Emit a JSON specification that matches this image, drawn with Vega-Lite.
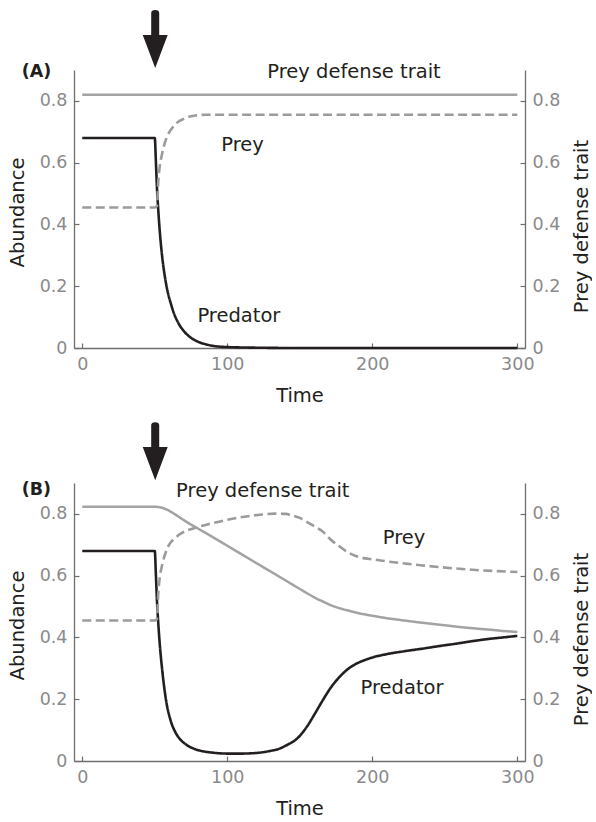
{
  "$schema": "https://vega.github.io/schema/vega-lite/v6.json",
  "padding": {"left": 7, "top": 10, "right": 0, "bottom": 0},
  "config": {
    "view": {"stroke": null},
    "font": "DejaVu Sans",
    "concat": {"spacing": 17},
    "axis": {
      "grid": false,
      "domainColor": "#6e6e6e",
      "domainWidth": 1.3,
      "tickColor": "#6e6e6e",
      "tickWidth": 1.2,
      "tickSize": -5,
      "labelColor": "#8a8a8a",
      "labelFont": "DejaVu Sans",
      "labelFontSize": 17.5,
      "labelPadding": 12,
      "labelFlush": false,
      "titleFont": "DejaVu Sans",
      "titleFontSize": 19.5,
      "titleFontWeight": "normal",
      "titleColor": "#231f20"
    }
  },
  "datasets": {
    "curves": [
      {"panel":"A","series":"predator","t":0,"v":0.68},{"panel":"A","series":"predator","t":50,"v":0.68},{"panel":"A","series":"predator","t":50.8,"v":0.6},{"panel":"A","series":"predator","t":51.5,"v":0.52},{"panel":"A","series":"predator","t":52.5,"v":0.44},{"panel":"A","series":"predator","t":53.5,"v":0.375},{"panel":"A","series":"predator","t":55,"v":0.3},{"panel":"A","series":"predator","t":57,"v":0.23},{"panel":"A","series":"predator","t":59,"v":0.18},{"panel":"A","series":"predator","t":61,"v":0.145},{"panel":"A","series":"predator","t":63,"v":0.115},{"panel":"A","series":"predator","t":66,"v":0.083},{"panel":"A","series":"predator","t":70,"v":0.055},{"panel":"A","series":"predator","t":75,"v":0.033},{"panel":"A","series":"predator","t":80,"v":0.02},{"panel":"A","series":"predator","t":85,"v":0.012},{"panel":"A","series":"predator","t":90,"v":0.007},{"panel":"A","series":"predator","t":100,"v":0.003},{"panel":"A","series":"predator","t":120,"v":0.001},{"panel":"A","series":"predator","t":150,"v":0},{"panel":"A","series":"predator","t":300,"v":0},
      {"panel":"A","series":"prey","t":0,"v":0.455},{"panel":"A","series":"prey","t":50,"v":0.455},{"panel":"A","series":"prey","t":51.5,"v":0.46},{"panel":"A","series":"prey","t":52.5,"v":0.545},{"panel":"A","series":"prey","t":53.5,"v":0.59},{"panel":"A","series":"prey","t":55,"v":0.628},{"panel":"A","series":"prey","t":57,"v":0.665},{"panel":"A","series":"prey","t":59,"v":0.69},{"panel":"A","series":"prey","t":62,"v":0.712},{"panel":"A","series":"prey","t":65,"v":0.728},{"panel":"A","series":"prey","t":70,"v":0.742},{"panel":"A","series":"prey","t":75,"v":0.75},{"panel":"A","series":"prey","t":85,"v":0.755},{"panel":"A","series":"prey","t":300,"v":0.755},
      {"panel":"A","series":"trait","t":0,"v":0.82},{"panel":"A","series":"trait","t":300,"v":0.82},
      {"panel":"B","series":"predator","t":0,"v":0.68},{"panel":"B","series":"predator","t":50,"v":0.68},{"panel":"B","series":"predator","t":50.8,"v":0.6},{"panel":"B","series":"predator","t":51.5,"v":0.52},{"panel":"B","series":"predator","t":52.5,"v":0.44},{"panel":"B","series":"predator","t":53.5,"v":0.375},{"panel":"B","series":"predator","t":55,"v":0.3},{"panel":"B","series":"predator","t":57.5,"v":0.205},{"panel":"B","series":"predator","t":61,"v":0.13},{"panel":"B","series":"predator","t":64,"v":0.095},{"panel":"B","series":"predator","t":67,"v":0.073},{"panel":"B","series":"predator","t":72,"v":0.052},{"panel":"B","series":"predator","t":78,"v":0.038},{"panel":"B","series":"predator","t":85,"v":0.03},{"panel":"B","series":"predator","t":90,"v":0.027},{"panel":"B","series":"predator","t":100,"v":0.024},{"panel":"B","series":"predator","t":110,"v":0.024},{"panel":"B","series":"predator","t":120,"v":0.026},{"panel":"B","series":"predator","t":129,"v":0.032},{"panel":"B","series":"predator","t":136,"v":0.04},{"panel":"B","series":"predator","t":142,"v":0.054},{"panel":"B","series":"predator","t":148,"v":0.072},{"panel":"B","series":"predator","t":154,"v":0.105},{"panel":"B","series":"predator","t":160,"v":0.15},{"panel":"B","series":"predator","t":165,"v":0.19},{"panel":"B","series":"predator","t":171,"v":0.235},{"panel":"B","series":"predator","t":177,"v":0.27},{"panel":"B","series":"predator","t":183,"v":0.297},{"panel":"B","series":"predator","t":189,"v":0.315},{"panel":"B","series":"predator","t":195,"v":0.327},{"panel":"B","series":"predator","t":200,"v":0.335},{"panel":"B","series":"predator","t":210,"v":0.346},{"panel":"B","series":"predator","t":223,"v":0.356},{"panel":"B","series":"predator","t":235,"v":0.364},{"panel":"B","series":"predator","t":246,"v":0.372},{"panel":"B","series":"predator","t":258,"v":0.38},{"panel":"B","series":"predator","t":269,"v":0.388},{"panel":"B","series":"predator","t":280,"v":0.395},{"panel":"B","series":"predator","t":290,"v":0.4},{"panel":"B","series":"predator","t":300,"v":0.405},
      {"panel":"B","series":"prey","t":0,"v":0.455},{"panel":"B","series":"prey","t":50,"v":0.455},{"panel":"B","series":"prey","t":51.5,"v":0.46},{"panel":"B","series":"prey","t":52.5,"v":0.55},{"panel":"B","series":"prey","t":53.5,"v":0.595},{"panel":"B","series":"prey","t":55.2,"v":0.637},{"panel":"B","series":"prey","t":57.5,"v":0.675},{"panel":"B","series":"prey","t":60,"v":0.701},{"panel":"B","series":"prey","t":64,"v":0.722},{"panel":"B","series":"prey","t":69,"v":0.739},{"panel":"B","series":"prey","t":78,"v":0.755},{"panel":"B","series":"prey","t":90,"v":0.77},{"panel":"B","series":"prey","t":101,"v":0.782},{"panel":"B","series":"prey","t":112,"v":0.791},{"panel":"B","series":"prey","t":124,"v":0.798},{"panel":"B","series":"prey","t":133,"v":0.801},{"panel":"B","series":"prey","t":140,"v":0.8},{"panel":"B","series":"prey","t":145,"v":0.795},{"panel":"B","series":"prey","t":150,"v":0.787},{"panel":"B","series":"prey","t":156,"v":0.771},{"panel":"B","series":"prey","t":161,"v":0.757},{"panel":"B","series":"prey","t":166,"v":0.742},{"panel":"B","series":"prey","t":171,"v":0.718},{"panel":"B","series":"prey","t":177,"v":0.696},{"panel":"B","series":"prey","t":183,"v":0.676},{"panel":"B","series":"prey","t":189,"v":0.663},{"panel":"B","series":"prey","t":195,"v":0.656},{"panel":"B","series":"prey","t":200,"v":0.653},{"panel":"B","series":"prey","t":212,"v":0.645},{"panel":"B","series":"prey","t":223,"v":0.639},{"panel":"B","series":"prey","t":235,"v":0.633},{"panel":"B","series":"prey","t":246,"v":0.628},{"panel":"B","series":"prey","t":258,"v":0.623},{"panel":"B","series":"prey","t":269,"v":0.619},{"panel":"B","series":"prey","t":285,"v":0.615},{"panel":"B","series":"prey","t":300,"v":0.612},
      {"panel":"B","series":"trait","t":0,"v":0.823},{"panel":"B","series":"trait","t":50,"v":0.823},{"panel":"B","series":"trait","t":55,"v":0.82},{"panel":"B","series":"trait","t":60,"v":0.81},{"panel":"B","series":"trait","t":70,"v":0.78},{"panel":"B","series":"trait","t":80,"v":0.752},{"panel":"B","series":"trait","t":90,"v":0.725},{"panel":"B","series":"trait","t":100,"v":0.697},{"panel":"B","series":"trait","t":110,"v":0.669},{"panel":"B","series":"trait","t":120,"v":0.641},{"panel":"B","series":"trait","t":130,"v":0.613},{"panel":"B","series":"trait","t":140,"v":0.585},{"panel":"B","series":"trait","t":150,"v":0.557},{"panel":"B","series":"trait","t":155,"v":0.543},{"panel":"B","series":"trait","t":160,"v":0.53},{"panel":"B","series":"trait","t":165,"v":0.518},{"panel":"B","series":"trait","t":170,"v":0.507},{"panel":"B","series":"trait","t":175,"v":0.498},{"panel":"B","series":"trait","t":180,"v":0.491},{"panel":"B","series":"trait","t":185,"v":0.485},{"panel":"B","series":"trait","t":190,"v":0.479},{"panel":"B","series":"trait","t":200,"v":0.47},{"panel":"B","series":"trait","t":210,"v":0.462},{"panel":"B","series":"trait","t":220,"v":0.456},{"panel":"B","series":"trait","t":230,"v":0.45},{"panel":"B","series":"trait","t":245,"v":0.442},{"panel":"B","series":"trait","t":260,"v":0.434},{"panel":"B","series":"trait","t":275,"v":0.427},{"panel":"B","series":"trait","t":290,"v":0.421},{"panel":"B","series":"trait","t":300,"v":0.418}
    ],
    "labels": [
      {"panel":"A","text":"Prey defense trait","t":187.4,"v":0.894},
      {"panel":"A","text":"Prey","t":110.5,"v":0.656},
      {"panel":"A","text":"Predator","t":108,"v":0.102},
      {"panel":"B","text":"Prey defense trait","t":124.5,"v":0.874},
      {"panel":"B","text":"Prey","t":221.9,"v":0.723},
      {"panel":"B","text":"Predator","t":220.5,"v":0.237}
    ],
    "panelLabels": [
      {"panel":"A","text":"(A)","t":-31.6,"v":0.895},
      {"panel":"B","text":"(B)","t":-31.6,"v":0.877}
    ],
    "arrows": [
      {"panel":"A","t":50.3,"v":1.0},
      {"panel":"B","t":50.3,"v":1.003}
    ]
  },
  "vconcat": [
    {
      "width": 451, "height": 278,
      "layer": [
        {
          "layer": [
            {
              "data": {"name": "curves"},
              "transform": [{"filter": "datum.panel == 'A' && datum.series != 'trait'"}],
              "mark": {"type": "line", "interpolate": "monotone", "strokeWidth": 2.6},
              "encoding": {
                "x": {"field": "t", "type": "quantitative", "title": "Time", "scale": {"domain": [-5.7, 305.3], "nice": false, "zero": false}, "axis": {"values": [0, 100, 200, 300], "format": "d", "titlePadding": 14}},
                "y": {"field": "v", "type": "quantitative", "title": "Abundance", "scale": {"domain": [0, 0.9], "nice": false}, "axis": {"values": [0, 0.2, 0.4, 0.6, 0.8], "format": ".1~f", "titlePadding": 12, "titleY": 142}},
                "color": {"field": "series", "type": "nominal", "scale": {"domain": ["predator", "prey"], "range": ["#231f20", "#9b9b9b"]}, "legend": null},
                "strokeDash": {"field": "series", "type": "nominal", "scale": {"domain": ["predator", "prey"], "range": [[1, 0], [9, 4.5]]}, "legend": null}
              }
            },
            {
              "data": {"name": "labels"},
              "transform": [{"filter": "datum.panel == 'A'"}],
              "mark": {"type": "text", "fontSize": 19.5, "color": "#231f20", "align": "center", "baseline": "middle", "font": "DejaVu Sans"},
              "encoding": {
                "x": {"field": "t", "type": "quantitative", "title": "Time"},
                "y": {"field": "v", "type": "quantitative", "title": "Abundance"},
                "text": {"field": "text"}
              }
            },
            {
              "data": {"name": "panelLabels"},
              "transform": [{"filter": "datum.panel == 'A'"}],
              "mark": {"type": "text", "fontSize": 17.5, "fontWeight": "bold", "color": "#231f20", "align": "center", "baseline": "middle", "font": "DejaVu Sans"},
              "encoding": {
                "x": {"field": "t", "type": "quantitative", "title": "Time"},
                "y": {"field": "v", "type": "quantitative", "title": "Abundance"},
                "text": {"field": "text"}
              }
            },
            {
              "data": {"name": "arrows"},
              "transform": [{"filter": "datum.panel == 'A'"}],
              "mark": {"type": "point", "filled": true, "opacity": 1, "color": "#231f20", "size": 3364, "shape": "M-0.138,-0.9Q-0.138,-1 0,-1Q0.138,-1 0.138,-0.9L0.138,-0.14L0.43,-0.14L0,1L-0.43,-0.14L-0.138,-0.14Z"},
              "encoding": {
                "x": {"field": "t", "type": "quantitative", "title": "Time"},
                "y": {"field": "v", "type": "quantitative", "title": "Abundance"}
              }
            }
          ]
        },
        {
          "data": {"name": "curves"},
          "transform": [{"filter": "datum.panel == 'A' && datum.series == 'trait'"}],
          "mark": {"type": "line", "interpolate": "monotone", "strokeWidth": 2.5, "color": "#a3a3a3"},
          "encoding": {
            "x": {"field": "t", "type": "quantitative", "title": "Time"},
            "y": {"field": "v", "type": "quantitative", "title": "Prey defense trait", "scale": {"domain": [0, 0.9], "nice": false}, "axis": {"orient": "right", "values": [0, 0.2, 0.4, 0.6, 0.8], "format": ".1~f", "titlePadding": 13, "titleAngle": 270, "titleBaseline": "top", "titleY": 156}}
          }
        }
      ],
      "resolve": {"scale": {"y": "independent"}}
    },
    {
      "width": 451, "height": 278,
      "layer": [
        {
          "layer": [
            {
              "data": {"name": "curves"},
              "transform": [{"filter": "datum.panel == 'B' && datum.series != 'trait'"}],
              "mark": {"type": "line", "interpolate": "monotone", "strokeWidth": 2.6},
              "encoding": {
                "x": {"field": "t", "type": "quantitative", "title": "Time", "scale": {"domain": [-5.7, 305.3], "nice": false, "zero": false}, "axis": {"values": [0, 100, 200, 300], "format": "d", "titlePadding": 14}},
                "y": {"field": "v", "type": "quantitative", "title": "Abundance", "scale": {"domain": [0, 0.9], "nice": false}, "axis": {"values": [0, 0.2, 0.4, 0.6, 0.8], "format": ".1~f", "titlePadding": 12, "titleY": 142}},
                "color": {"field": "series", "type": "nominal", "scale": {"domain": ["predator", "prey"], "range": ["#231f20", "#9b9b9b"]}, "legend": null},
                "strokeDash": {"field": "series", "type": "nominal", "scale": {"domain": ["predator", "prey"], "range": [[1, 0], [9, 4.5]]}, "legend": null}
              }
            },
            {
              "data": {"name": "labels"},
              "transform": [{"filter": "datum.panel == 'B'"}],
              "mark": {"type": "text", "fontSize": 19.5, "color": "#231f20", "align": "center", "baseline": "middle", "font": "DejaVu Sans"},
              "encoding": {
                "x": {"field": "t", "type": "quantitative", "title": "Time"},
                "y": {"field": "v", "type": "quantitative", "title": "Abundance"},
                "text": {"field": "text"}
              }
            },
            {
              "data": {"name": "panelLabels"},
              "transform": [{"filter": "datum.panel == 'B'"}],
              "mark": {"type": "text", "fontSize": 17.5, "fontWeight": "bold", "color": "#231f20", "align": "center", "baseline": "middle", "font": "DejaVu Sans"},
              "encoding": {
                "x": {"field": "t", "type": "quantitative", "title": "Time"},
                "y": {"field": "v", "type": "quantitative", "title": "Abundance"},
                "text": {"field": "text"}
              }
            },
            {
              "data": {"name": "arrows"},
              "transform": [{"filter": "datum.panel == 'B'"}],
              "mark": {"type": "point", "filled": true, "opacity": 1, "color": "#231f20", "size": 3364, "shape": "M-0.138,-0.9Q-0.138,-1 0,-1Q0.138,-1 0.138,-0.9L0.138,-0.14L0.43,-0.14L0,1L-0.43,-0.14L-0.138,-0.14Z"},
              "encoding": {
                "x": {"field": "t", "type": "quantitative", "title": "Time"},
                "y": {"field": "v", "type": "quantitative", "title": "Abundance"}
              }
            }
          ]
        },
        {
          "data": {"name": "curves"},
          "transform": [{"filter": "datum.panel == 'B' && datum.series == 'trait'"}],
          "mark": {"type": "line", "interpolate": "monotone", "strokeWidth": 2.5, "color": "#a3a3a3"},
          "encoding": {
            "x": {"field": "t", "type": "quantitative", "title": "Time"},
            "y": {"field": "v", "type": "quantitative", "title": "Prey defense trait", "scale": {"domain": [0, 0.9], "nice": false}, "axis": {"orient": "right", "values": [0, 0.2, 0.4, 0.6, 0.8], "format": ".1~f", "titlePadding": 13, "titleAngle": 270, "titleBaseline": "top", "titleY": 156}}
          }
        }
      ],
      "resolve": {"scale": {"y": "independent"}}
    }
  ]
}
